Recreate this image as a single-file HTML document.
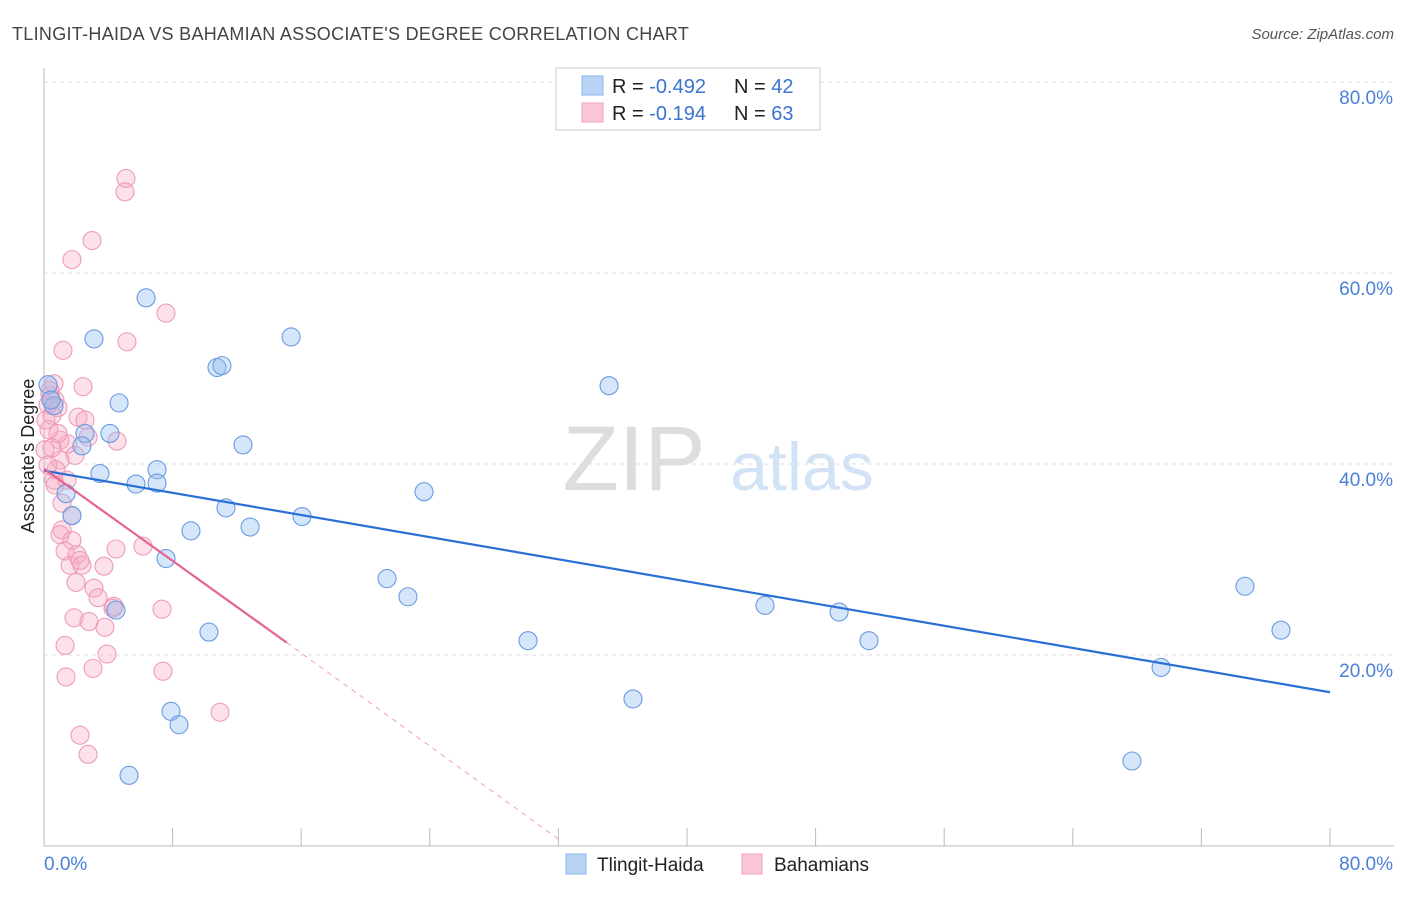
<!DOCTYPE html>
<html><head><meta charset="utf-8"><style>
body{margin:0;background:#fff;font-family:"Liberation Sans",sans-serif;}
svg text{font-family:"Liberation Sans",sans-serif;}
</style></head><body>
<svg id="chart" width="1406" height="892" xmlns="http://www.w3.org/2000/svg">
<text x="12" y="40" font-size="18" fill="#444" letter-spacing="0.3">TLINGIT-HAIDA VS BAHAMIAN ASSOCIATE'S DEGREE CORRELATION CHART</text>
<text x="1394" y="39" font-size="15" fill="#555" font-style="italic" text-anchor="end">Source: ZipAtlas.com</text>
<g>
<text x="634" y="490" font-size="92" fill="#ddd" font-family="Liberation Serif" text-anchor="middle">ZIP</text>
<text x="802" y="490" font-size="68" fill="#d3e3f6" text-anchor="middle">atlas</text>
</g>
<g id="grid"></g><g id="axes"></g><g id="marks"></g>
<g>
<rect x="556" y="68" width="264" height="62" fill="#fff" stroke="#ccc"/>
<rect x="582" y="76" width="21" height="19" fill="#b9d3f7" stroke="#8ab4ec"/>
<text x="612" y="93" font-size="20" fill="#222">R = <tspan fill="#3a73d0">-0.492</tspan></text>
<text x="734" y="93" font-size="20" fill="#222">N = <tspan fill="#3a73d0">42</tspan></text>
<rect x="582" y="103" width="21" height="19" fill="#f9c6d6" stroke="#efa5bd"/>
<text x="612" y="120" font-size="20" fill="#222">R = <tspan fill="#3a73d0"> -0.194</tspan></text>
<text x="734" y="120" font-size="20" fill="#222">N = <tspan fill="#3a73d0">63</tspan></text>
</g>
<g>
<rect x="566" y="854" width="20" height="20" fill="#b9d3f7" stroke="#8ab4ec"/>
<text x="597" y="871" font-size="19" fill="#222">Tlingit-Haida</text>
<rect x="742" y="854" width="20" height="20" fill="#f9c6d6" stroke="#efa5bd"/>
<text x="774" y="871" font-size="19" fill="#222">Bahamians</text>
</g>
<text transform="translate(34,456) rotate(-90)" font-size="18" fill="#222" text-anchor="middle">Associate's Degree</text>
</svg>
<script>
const blueX=[6.35,3.11,15.37,10.76,11.07,35.15,4.67,0.62,0.25,2.55,4.1,2.36,12.38,7.03,3.48,5.72,7.03,23.64,1.37,11.32,1.74,12.82,16.05,9.14,7.59,21.34,22.64,4.48,44.85,49.46,10.26,30.11,51.32,74.71,76.95,69.49,36.64,7.9,8.4,5.29,67.68,0.44];
const blueY=[57.4,53.1,53.3,50.1,50.3,48.2,46.4,46.1,48.3,43.2,43.2,41.9,42.0,39.4,39.0,37.9,38.0,37.1,36.9,35.4,34.6,33.4,34.5,33.0,30.1,28.0,26.1,24.7,25.2,24.5,22.4,21.5,21.5,27.2,22.6,18.7,15.4,14.1,12.7,7.4,8.9,46.7];
const pinkX=[5.1,5.04,2.99,1.74,7.59,5.16,1.18,0.62,2.43,0.37,0.68,0.25,0.87,0.5,2.12,2.55,4.54,1.0,1.49,1.93,1.0,0.5,0.62,0.68,1.12,1.74,1.12,1.0,1.74,1.31,2.05,4.48,6.16,1.62,2.36,3.73,1.99,3.11,3.36,2.24,1.31,4.29,3.79,7.34,1.87,2.8,3.05,3.92,7.4,1.37,10.95,2.24,2.74,0.75,0.06,0.12,0.31,0.87,2.74,4.35,0.25,1.43,0.37];
const pinkY=[69.9,68.5,63.4,61.4,55.8,52.8,51.9,48.4,48.1,47.2,46.7,46.2,45.9,45.1,44.9,44.6,42.4,42.5,42.1,40.9,40.4,41.7,38.3,37.8,35.9,34.6,33.1,32.6,32.0,30.9,30.5,31.1,31.4,29.4,29.4,29.3,27.6,27.0,26.0,29.9,21.0,24.9,22.9,24.8,23.9,23.5,18.6,20.1,18.3,17.7,14.0,11.6,9.6,39.4,41.5,44.6,43.6,43.2,42.8,25.1,39.9,38.3,47.7];
const yTicks=[20,40,60,80];
const yTickLabels=["20.0%","40.0%","60.0%","80.0%"];
const xTicks=[0,8,16,24,32,40,48,56,64,72,80];
const blueTrend=[[0,39.3],[80,16.1]];
const pinkTrend=[[0,39.5],[15.1,21.3]];
const pinkDash=[[15.1,21.3],[32.1,0.6]];
const NS="http://www.w3.org/2000/svg";
const sx=v=>44+v*16.075, sy=v=>846-v*9.55;
function mk(tag,attrs,parent){const e=document.createElementNS(NS,tag);for(const k in attrs)e.setAttribute(k,attrs[k]);document.getElementById(parent).appendChild(e);return e;}
yTicks.forEach((t,i)=>{
 const g=mk('line',{x1:44,x2:1394,y1:sy(t),y2:sy(t),stroke:'#ddd','stroke-dasharray':'4,4'},'grid');
 
 
 const l=mk('text',{x:1393,y:sy(t)+22,'font-size':19,fill:'#4a80d6','text-anchor':'end'},'axes');
 l.textContent=yTickLabels[i];
 
 
});
const ax=mk('line',{x1:44,x2:44,y1:68,y2:846,stroke:'#bbb'},'axes');


const bx=mk('line',{x1:44,x2:1394,y1:846,y2:846,stroke:'#bbb'},'axes');


xTicks.forEach(t=>{const k=mk('line',{x1:sx(t),x2:sx(t),y1:828,y2:846,stroke:'#bbb'},'axes');
 
 });
const x0=mk('text',{x:44,y:870,'font-size':19,fill:'#4a80d6'},'axes');x0.textContent='0.0%';


const x1=mk('text',{x:1393,y:870,'font-size':19,fill:'#4a80d6','text-anchor':'end'},'axes');x1.textContent='80.0%';


pinkX.forEach((v,i)=>{const c=mk('circle',{cx:sx(v),cy:sy(pinkY[i]),r:9,fill:'rgba(246,170,196,0.35)',stroke:'#ee9cb8','stroke-width':1.1},'marks');
 
 });
blueX.forEach((v,i)=>{const c=mk('circle',{cx:sx(v),cy:sy(blueY[i]),r:9,fill:'rgba(150,190,242,0.4)',stroke:'#6a9be0','stroke-width':1.1},'marks');
 
 });
const bl=mk('line',{x1:sx(blueTrend[0][0]),y1:sy(blueTrend[0][1]),x2:sx(blueTrend[1][0]),y2:sy(blueTrend[1][1]),stroke:'#2a6fd6','stroke-width':2.2},'marks');


const pl=mk('line',{x1:sx(pinkTrend[0][0]),y1:sy(pinkTrend[0][1]),x2:sx(pinkTrend[1][0]),y2:sy(pinkTrend[1][1]),stroke:'#e4648f','stroke-width':2.2},'marks');


const pd=mk('line',{x1:sx(pinkDash[0][0]),y1:sy(pinkDash[0][1]),x2:sx(pinkDash[1][0]),y2:sy(pinkDash[1][1]),stroke:'#eea0ba','stroke-width':1,'stroke-dasharray':'5,5'},'marks');


</script>
</body></html>
